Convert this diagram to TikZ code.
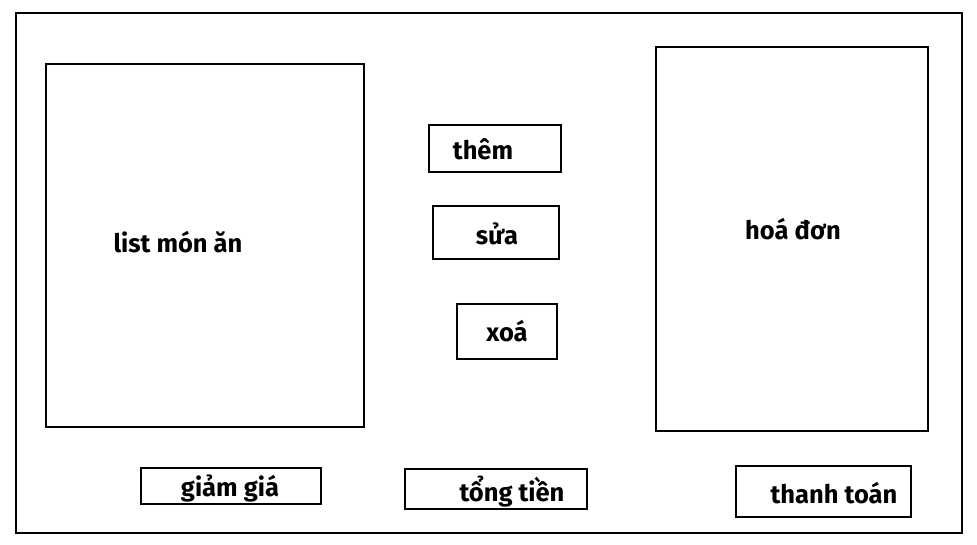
\documentclass[tikz,border=0pt]{standalone}
\usepackage{fontspec}
\setmainfont{Fira Sans}[UprightFont=* Bold]
\usetikzlibrary{positioning}

\begin{document}
\begin{tikzpicture}[x=1pt, y=-1pt,
  frame/.style={draw, line width=2.8pt, inner sep=0pt},
  lbl/.style={font=\fontsize{25.5}{27}\selectfont, inner sep=0pt}]
\useasboundingbox (0,0) rectangle (977,545);
% frame and panels
\node[frame, minimum width=946pt, minimum height=520pt] (win) at (489,273) {};
\node[frame, minimum width=318pt, minimum height=363pt] (list) at (205,245.5) {};
\node[frame, minimum width=272pt, minimum height=384pt] (bill) at (792,239) {};
% buttons
\node[frame, minimum width=132pt, minimum height=47pt] (add) at (495,148.5) {};
\node[frame, minimum width=126pt, minimum height=53pt] (edit) at (496,232.5) {};
\node[frame, minimum width=100pt, minimum height=55pt] (del) at (507,331.5) {};
\node[frame, minimum width=180pt, minimum height=36pt] (disc) at (231,486) {};
\node[frame, minimum width=182pt, minimum height=40pt] (total) at (496,489) {};
\node[frame, minimum width=175pt, minimum height=51pt] (pay) at (823.5,491.5) {};
% texts
\node[lbl] (listtxt) at (178,242) {list món ăn};
\node[lbl] (billtxt) at (793,229) {hoá đơn};
\node[lbl] (addtxt) at (483,149) {thêm};
\node[lbl] (edittxt) at (497,234) {sửa};
\node[lbl] (deltxt) at (507,331) {xoá};
\node[lbl] (disctxt) at (230,488) {giảm giá};
\node[lbl] (totaltxt) at (512,492) {tổng tiền};
\node[lbl] (paytxt) at (834,493) {thanh toán};
\end{tikzpicture}
\end{document}
